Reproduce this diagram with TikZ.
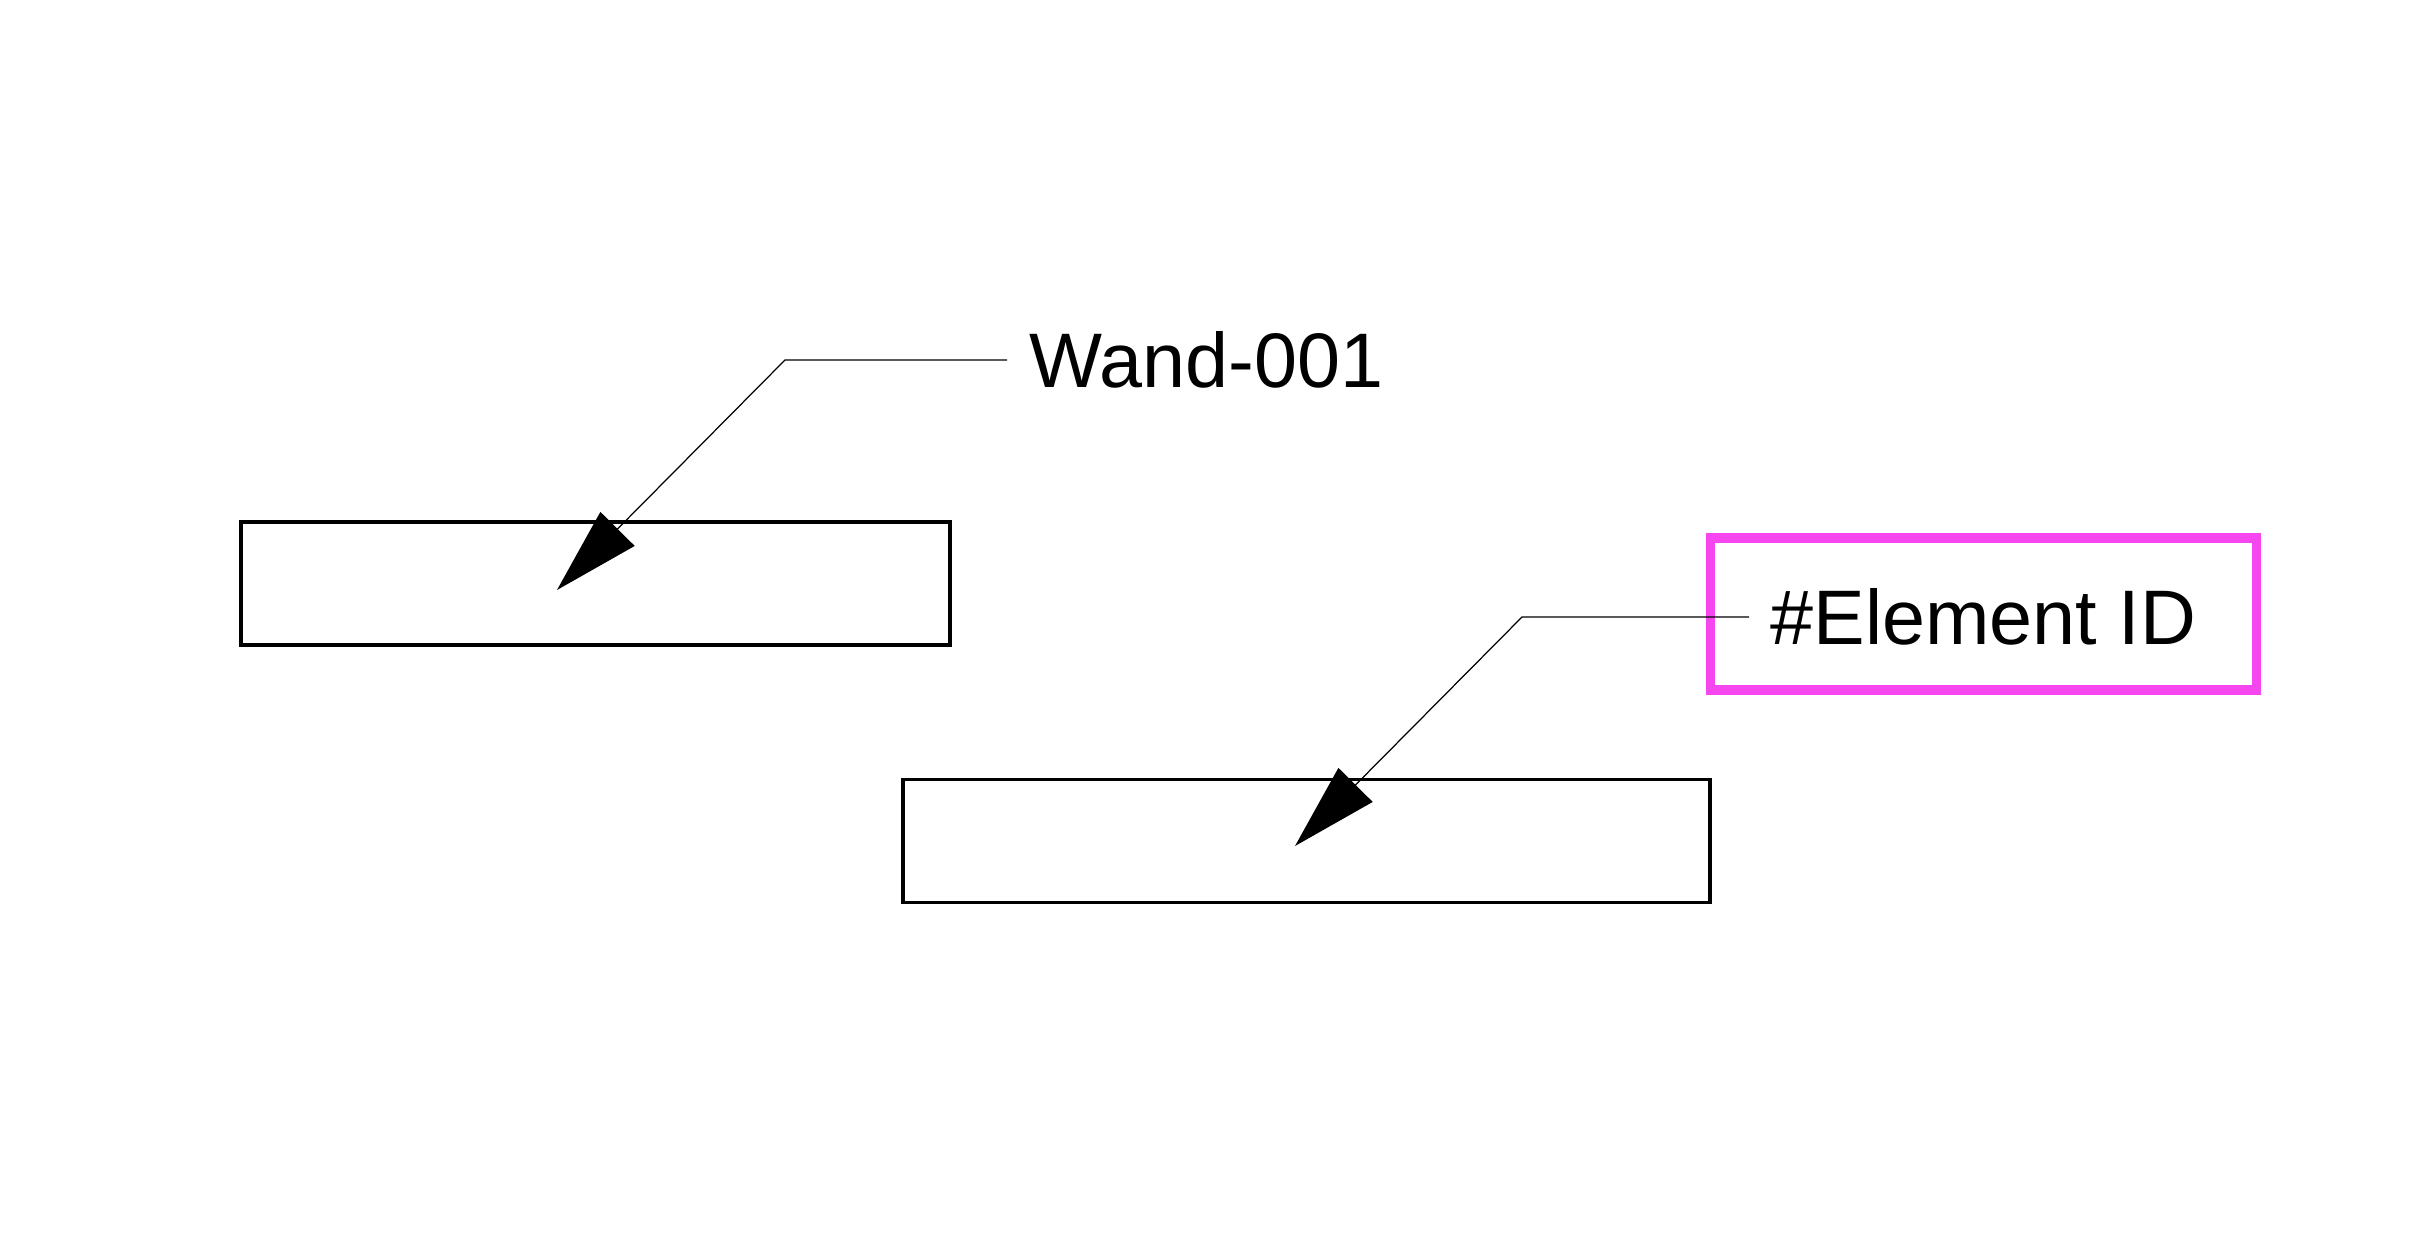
\documentclass[tikz,border=0pt]{standalone}
\usepackage{fontspec}
\setmainfont{Liberation Sans}
\usepackage{tikz}
\usetikzlibrary{arrows.meta, positioning, calc}
\definecolor{hlpink}{RGB}{245,70,240}

\begin{document}
\begin{tikzpicture}[wall/.style={draw, line width=1pt, inner sep=0, outer sep=0, minimum height=1.23cm},
                lbl/.style={font=\fontsize{22}{26}\selectfont, inner sep=0, anchor=west},
                leader/.style={line width=0.35pt, -{Triangle[length=0.86cm, width=0.48cm]}},
                highlight/.style={draw=hlpink, line width=2.8pt, minimum width=5.46cm, minimum height=1.52cm}]
                \useasboundingbox (0,0) rectangle (24.14,12.38);
                \node[wall, minimum width=7.09cm] (wall1) at (5.955, 6.547) {};
                \node[wall, minimum width=8.07cm] (wall2) at (13.065, 3.97) {};
                \coordinate (walltip) at (5.57, 6.48);
                \coordinate (idtip) at (12.95, 3.92);
                \node[lbl] (wandlabel) at (10.29, 8.78) {Wand-001};
                \node[lbl] (idlabel) at (17.70, 6.21) {\#Element ID};
                \node[highlight] (idbox) at ([yshift=0.03cm]idlabel.center) {};
                \draw[leader] ([xshift=-0.22cm]wandlabel.west) -- ++(-2.22,0) -- (walltip);
                \draw[leader] ([xshift=-0.21cm]idlabel.west) -- ++(-2.27,0) -- (idtip);
            \end{tikzpicture}
\end{document}
